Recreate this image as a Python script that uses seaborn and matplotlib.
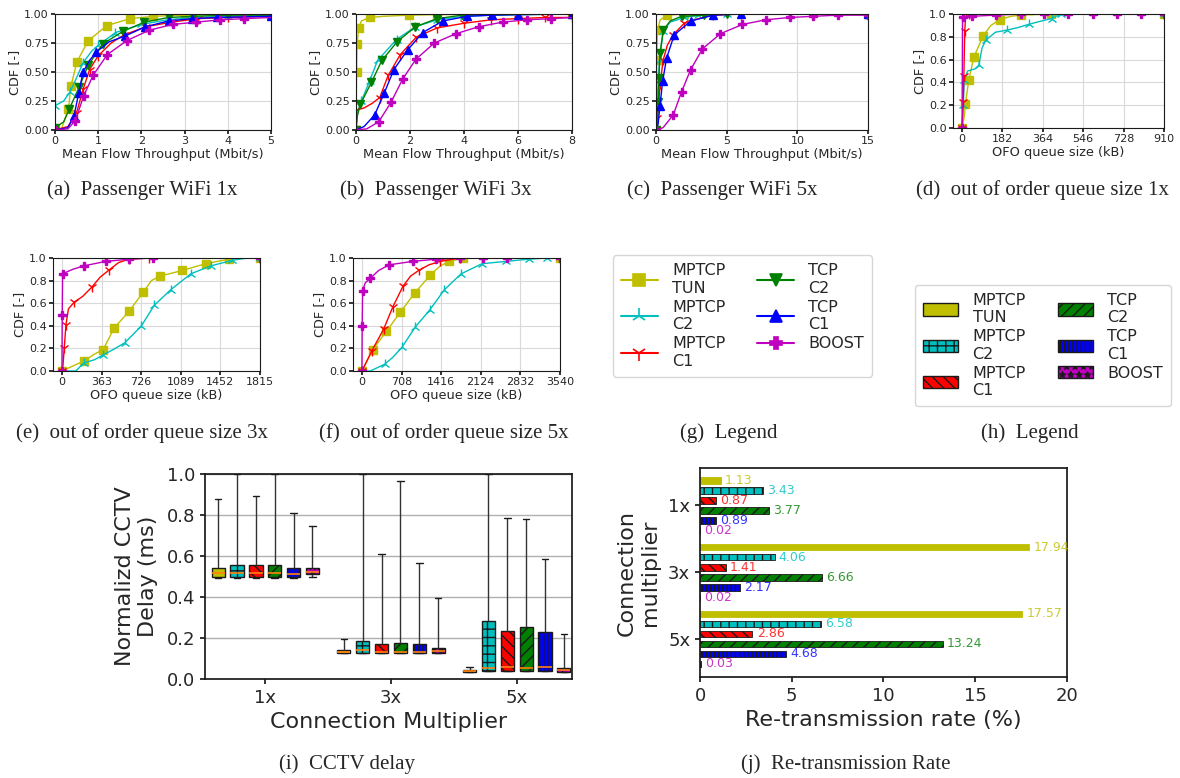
import numpy as np
import pandas as pd
import matplotlib
matplotlib.use("Agg")
import matplotlib.pyplot as plt
import seaborn as sns
from matplotlib.lines import Line2D
from matplotlib.patches import Patch

sns.set_theme(style="ticks")
plt.rcParams['font.family'] = ['DejaVu Sans']
plt.rcParams['hatch.linewidth'] = 1.0

# ---------------- data ----------------
PROTOCOLS = ["MPTCP\nTUN", "MPTCP\nC2", "MPTCP\nC1", "TCP\nC2", "TCP\nC1", "BOOST"]
COLORS = ['#bfbf00', '#00bfbf', '#ff0000', '#008000', '#0000ff', '#bf00bf']
MARKERS = ['s', '2', '1', 'v', '^', 'P']
HATCHES = ['', '++', '\\\\\\', '///', '||||', '**']

# (a) Passenger WiFi 1x: mean flow throughput (Mbit/s) -> CDF
PANEL_A = {
    "MPTCP\nTUN": ([0, 0.15, 0.31, 0.37, 0.51, 0.77, 1.2, 1.74, 2.28, 3.0, 5.0],
                   [0, 0.01, 0.18, 0.38, 0.59, 0.77, 0.90, 0.96, 0.98, 0.99, 1.0]),
    "MPTCP\nC2": ([0, 0.2, 0.35, 0.5, 0.65, 0.85, 1.0, 1.4, 2.0, 2.6, 3.2, 4.0, 5.0],
                  [0.21, 0.25, 0.33, 0.45, 0.58, 0.68, 0.73, 0.84, 0.91, 0.95, 0.97, 0.98, 0.99]),
    "MPTCP\nC1": ([0, 0.3, 0.5, 0.65, 0.8, 1.0, 1.3, 1.6, 2.1, 2.7, 3.3, 4.0, 5.0],
                  [0, 0.03, 0.15, 0.35, 0.52, 0.64, 0.75, 0.82, 0.89, 0.93, 0.96, 0.97, 0.98]),
    "TCP\nC2": ([0, 0.2, 0.33, 0.45, 0.56, 0.77, 1.1, 1.57, 2.07, 2.63, 3.2, 4.0, 5.0],
                [0.02, 0.07, 0.18, 0.28, 0.37, 0.56, 0.74, 0.85, 0.93, 0.97, 0.98, 0.99, 0.99]),
    "TCP\nC1": ([0, 0.3, 0.44, 0.55, 0.65, 0.8, 0.95, 1.25, 1.62, 2.09, 2.63, 3.18, 3.75, 5.0],
                [0, 0.02, 0.12, 0.32, 0.50, 0.60, 0.67, 0.76, 0.81, 0.89, 0.94, 0.96, 0.97, 0.98]),
    "BOOST": ([0, 0.3, 0.47, 0.66, 0.88, 1.21, 1.66, 2.18, 2.72, 3.27, 3.83, 4.37, 5.0],
              [0, 0.01, 0.08, 0.29, 0.47, 0.65, 0.77, 0.86, 0.91, 0.93, 0.95, 0.96, 0.97]),
}
# (b) Passenger WiFi 3x
PANEL_B = {
    "MPTCP\nTUN": ([0, 0.02, 0.04, 0.1, 0.2, 0.5, 1.02, 1.95, 3.0, 8.0],
                   [0, 0.5, 0.74, 0.88, 0.94, 0.97, 0.98, 0.99, 0.995, 1.0]),
    "MPTCP\nC2": ([0, 0.05, 0.2, 0.5, 0.8, 1.5, 2.2, 3.0, 4.0, 5.0, 8.0],
                  [0, 0.15, 0.25, 0.42, 0.60, 0.78, 0.89, 0.95, 0.98, 0.99, 1.0]),
    "MPTCP\nC1": ([0, 0.3, 0.6, 0.88, 1.19, 1.64, 2.23, 3.0, 4.0, 5.0, 6.0, 7.0, 8.0],
                  [0.17, 0.19, 0.23, 0.28, 0.47, 0.65, 0.80, 0.88, 0.92, 0.95, 0.96, 0.97, 0.97]),
    "TCP\nC2": ([0, 0.05, 0.16, 0.57, 0.96, 1.52, 2.2, 3.0, 3.93, 5.0, 8.0],
                [0, 0.12, 0.22, 0.41, 0.60, 0.76, 0.89, 0.96, 0.99, 0.995, 1.0]),
    "TCP\nC1": ([0, 0.3, 0.69, 1.05, 1.4, 1.91, 2.47, 3.22, 4.11, 5.04, 6.0, 8.0],
                [0, 0.03, 0.13, 0.32, 0.52, 0.69, 0.84, 0.94, 0.98, 0.99, 0.995, 1.0]),
    "BOOST": ([0, 0.4, 0.84, 1.3, 1.73, 2.22, 2.9, 3.7, 4.54, 5.43, 6.33, 7.23, 8.0],
              [0, 0.01, 0.07, 0.24, 0.44, 0.61, 0.75, 0.83, 0.89, 0.93, 0.95, 0.96, 0.97]),
}
# (c) Passenger WiFi 5x
PANEL_C = {
    "MPTCP\nTUN": ([0, 0.05, 0.1, 0.3, 0.8, 2.0, 15.0],
                   [0, 0.6, 0.86, 0.95, 0.99, 1.0, 1.0]),
    "MPTCP\nC2": ([0, 0.1, 0.25, 0.5, 1.0, 2.0, 3.0, 5.0, 15.0],
                  [0, 0.3, 0.6, 0.85, 0.93, 0.97, 0.99, 1.0, 1.0]),
    "MPTCP\nC1": ([0, 0.1, 0.3, 0.5, 0.8, 1.2, 2.0, 3.0, 4.0, 6.0, 15.0],
                  [0, 0.1, 0.4, 0.6, 0.73, 0.82, 0.92, 0.96, 0.99, 1.0, 1.0]),
    "TCP\nC2": ([0, 0.1, 0.16, 0.21, 0.28, 0.52, 1.0, 1.81, 3.4, 5.0, 15.0],
                [0, 0.05, 0.24, 0.45, 0.66, 0.86, 0.94, 0.98, 0.99, 1.0, 1.0]),
    "TCP\nC1": ([0, 0.15, 0.28, 0.47, 0.75, 1.29, 2.47, 4.05, 6.0, 15.0],
                [0, 0.05, 0.21, 0.42, 0.62, 0.82, 0.94, 0.99, 1.0, 1.0]),
    "BOOST": ([0, 0.5, 1.22, 1.81, 2.45, 3.29, 4.56, 6.12, 7.76, 9.46, 11.1, 12.9, 15.0],
              [0, 0.02, 0.13, 0.33, 0.52, 0.70, 0.83, 0.91, 0.95, 0.97, 0.98, 0.99, 0.99]),
}
# (d) OFO queue size 1x (kB)
PANEL_D = {
    "MPTCP\nTUN": ([0, 10, 15, 30, 53, 75, 95, 130, 169, 220, 264, 400, 910],
                   [0, 0.10, 0.21, 0.42, 0.62, 0.72, 0.81, 0.90, 0.95, 0.98, 0.99, 1.0, 1.0]),
    "MPTCP\nC2": ([0, 5, 10, 25, 60, 75, 90, 106, 150, 204, 250, 302, 360, 403, 445, 910],
                  [0, 0.20, 0.42, 0.50, 0.52, 0.55, 0.70, 0.77, 0.84, 0.86, 0.88, 0.91, 0.94, 0.96, 1.0, 1.0]),
    "MPTCP\nC1": ([0, 5, 8, 12, 16, 30, 910],
                  [0, 0.23, 0.46, 0.85, 0.98, 1.0, 1.0]),
    "BOOST": ([0, 2, 45, 151, 264, 370, 478, 589, 697, 807, 910],
              [0, 0.97, 0.98, 0.99, 1.0, 1.0, 1.0, 1.0, 1.0, 1.0, 1.0]),
}
# (e) OFO queue size 3x (kB)
PANEL_E = {
    "MPTCP\nTUN": ([0, 204, 300, 378, 479, 616, 747, 820, 900, 1104, 1318, 1531, 1600, 1815],
                   [0, 0.09, 0.15, 0.19, 0.38, 0.53, 0.70, 0.80, 0.84, 0.89, 0.95, 0.99, 1.0, 1.0]),
    "MPTCP\nC2": ([0, 128, 198, 300, 372, 470, 577, 729, 845, 998, 1181, 1364, 1562, 1700, 1815],
                  [0, 0, 0.07, 0.10, 0.14, 0.19, 0.25, 0.40, 0.58, 0.72, 0.86, 0.93, 0.98, 1.0, 1.0]),
    "MPTCP\nC1": ([0, 10, 21, 37, 60, 113, 190, 272, 350, 427, 520, 616, 800, 1815],
                  [0, 0.05, 0.20, 0.41, 0.55, 0.61, 0.66, 0.74, 0.83, 0.89, 0.96, 0.99, 1.0, 1.0]),
    "BOOST": ([0, 3, 6, 100, 198, 403, 616, 839, 1815],
              [0, 0.5, 0.86, 0.90, 0.93, 0.97, 0.99, 1.0, 1.0]),
}
# (f) OFO queue size 5x (kB)
PANEL_F = {
    "MPTCP\nTUN": ([0, 197, 436, 687, 943, 1224, 1400, 1564, 1800, 3540],
                   [0, 0.19, 0.35, 0.52, 0.69, 0.85, 0.93, 0.97, 1.0, 1.0]),
    "MPTCP\nC2": ([0, 150, 406, 550, 716, 955, 1212, 1475, 1773, 2149, 2579, 2985, 3313, 3540],
                  [0, 0, 0.06, 0.12, 0.21, 0.39, 0.54, 0.72, 0.86, 0.95, 0.97, 0.99, 1.0, 1.0]),
    "MPTCP\nC1": ([0, 179, 388, 555, 734, 870, 1015, 1200, 1403, 1761, 3540],
                  [0, 0.18, 0.37, 0.57, 0.75, 0.84, 0.89, 0.94, 0.97, 1.0, 1.0]),
    "BOOST": ([0, 5, 12, 60, 149, 300, 490, 907, 1331, 1761, 2167, 2597, 3540],
              [0, 0.4, 0.71, 0.78, 0.82, 0.89, 0.94, 0.97, 0.99, 1.0, 1.0, 1.0, 1.0]),
}

# (i) CCTV delay boxes: [min, q1, median, q3, max] per multiplier 1x, 3x, 5x
MULTIPLIERS = ["1x", "3x", "5x"]
BOX_TUN = [[0.494, 0.500, 0.515, 0.540, 0.878], [0.125, 0.127, 0.133, 0.141, 0.195], [0.036, 0.036, 0.040, 0.044, 0.057]]
BOX_C2 = [[0.491, 0.500, 0.515, 0.556, 1.000], [0.125, 0.127, 0.141, 0.185, 1.000], [0.039, 0.039, 0.055, 0.285, 1.000]]
BOX_C1 = [[0.491, 0.500, 0.515, 0.556, 0.891], [0.127, 0.128, 0.133, 0.169, 0.611], [0.039, 0.039, 0.058, 0.234, 0.784]]
BOX_TCP_C2 = [[0.491, 0.497, 0.515, 0.556, 1.000], [0.127, 0.128, 0.133, 0.174, 0.967], [0.039, 0.039, 0.052, 0.252, 0.779]]
BOX_TCP_C1 = [[0.491, 0.500, 0.510, 0.540, 0.808], [0.127, 0.128, 0.133, 0.171, 0.564], [0.039, 0.039, 0.058, 0.228, 0.584]]
BOX_BOOST = [[0.499, 0.511, 0.523, 0.540, 0.746], [0.127, 0.128, 0.137, 0.150, 0.393], [0.036, 0.036, 0.044, 0.055, 0.218]]

# (j) re-transmission rate (%)
RATE_TUN = [1.13, 17.94, 17.57]
RATE_C2 = [3.43, 4.06, 6.58]
RATE_C1 = [0.87, 1.41, 2.86]
RATE_TCP_C2 = [3.77, 6.66, 13.24]
RATE_TCP_C1 = [0.89, 2.17, 4.68]
RATE_BOOST = [0.02, 0.02, 0.03]

# ---------------- layout helpers ----------------
W, H = 1180, 778
fig = plt.figure(figsize=(W / 100, H / 100), dpi=100)


def rect(l, t, r, b):
    return [l / W, 1 - b / H, (r - l) / W, (b - t) / H]


def caption(x, y, s):
    fig.text(x / W, 1 - y / H, s, ha='center', va='center',
             family=['Liberation Serif', 'DejaVu Serif'], fontsize=15)


def cdf_panel(r, series, xlim, xticks, yticks, yfmt, xlabel):
    ax = fig.add_axes(rect(*r))
    for name, col, mk in zip(PROTOCOLS, COLORS, MARKERS):
        if name not in series:
            continue
        xs, ys = series[name]
        ms = 7.5 if mk in ('1', '2') else 5.5
        sns.lineplot(x=xs, y=ys, ax=ax, color=col, marker=mk, markersize=ms,
                     markeredgecolor=col, markeredgewidth=1.0, linewidth=1.0,
                     estimator=None, sort=False, markevery=0.1, legend=False)
    ax.set_xlim(*xlim)
    ax.set_ylim(0, 1)
    ax.set_xticks(xticks)
    ax.set_xticklabels([str(t) for t in xticks])
    ax.set_yticks(yticks)
    ax.set_yticklabels([yfmt.format(v) for v in yticks])
    ax.grid(True, color='#d9d9d9', lw=0.8)
    ax.set_axisbelow(True)
    ax.set_ylabel('CDF [-]', fontsize=9.3, labelpad=2)
    ax.set_xlabel(xlabel, fontsize=9.3, labelpad=1)
    ax.tick_params(labelsize=8, length=3, pad=1.5, color='k')
    for s in ax.spines.values():
        s.set_visible(True)
        s.set_color('k')
        s.set_linewidth(0.8)
    return ax


y4 = [0, 0.25, 0.5, 0.75, 1.0]
y5 = [0, 0.2, 0.4, 0.6, 0.8, 1.0]
cdf_panel((55, 14, 271, 130), PANEL_A, (0, 5), [0, 1, 2, 3, 4, 5], y4, '{:.2f}', 'Mean Flow Throughput (Mbit/s)')
cdf_panel((356, 14, 572, 130), PANEL_B, (0, 8), [0, 2, 4, 6, 8], y4, '{:.2f}', 'Mean Flow Throughput (Mbit/s)')
cdf_panel((656, 14, 868, 130), PANEL_C, (0, 15), [0, 5, 10, 15], y4, '{:.2f}', 'Mean Flow Throughput (Mbit/s)')
cdf_panel((953, 14, 1164, 128), PANEL_D, (-0.045 * 910, 910), [0, 182, 364, 546, 728, 910], y5, '{:.1f}', 'OFO queue size (kB)')
cdf_panel((53, 258, 260, 371), PANEL_E, (-0.045 * 1815, 1815), [0, 363, 726, 1089, 1452, 1815], y5, '{:.1f}', 'OFO queue size (kB)')
cdf_panel((353, 258, 560, 371), PANEL_F, (-0.045 * 3540, 3540), [0, 708, 1416, 2124, 2832, 3540], y5, '{:.1f}', 'OFO queue size (kB)')

# ---------------- legends (g) and (h) ----------------
line_handles = [Line2D([0], [0], color=c, marker=m, markersize=(11 if m in ('1', '2') else 9),
                       markeredgecolor=c, markeredgewidth=1.2, lw=1.5)
                for c, m in zip(COLORS, MARKERS)]
fig.legend(handles=line_handles, labels=PROTOCOLS, ncol=2, loc='center',
           bbox_to_anchor=(742.5 / W, 1 - 316 / H), fontsize=11.5, frameon=True,
           handlelength=2.3, handletextpad=0.9, columnspacing=2.0, labelspacing=0.25,
           borderpad=0.5, edgecolor='#cccccc', fancybox=True)
patch_handles = [Patch(facecolor=c, edgecolor='k', hatch=h, lw=1) for c, h in zip(COLORS, HATCHES)]
fig.legend(handles=patch_handles, labels=PROTOCOLS, ncol=2, loc='center',
           bbox_to_anchor=(1043 / W, 1 - 345.5 / H), fontsize=11.5, frameon=True,
           handlelength=2.2, handleheight=0.8, handletextpad=0.9, columnspacing=2.0,
           labelspacing=0.25, borderpad=0.5, edgecolor='#cccccc', fancybox=True)

# ---------------- (i) CCTV delay box plot ----------------
rows = []
for name, boxes in zip(PROTOCOLS, [BOX_TUN, BOX_C2, BOX_C1, BOX_TCP_C2, BOX_TCP_C1, BOX_BOOST]):
    for mult, vals in zip(MULTIPLIERS, boxes):
        for v in vals:
            rows.append((mult, name, v))
df_box = pd.DataFrame(rows, columns=['mult', 'proto', 'value'])

ax_i = fig.add_axes(rect(205, 474, 572, 679))
sns.boxplot(data=df_box, x='mult', y='value', hue='proto', hue_order=PROTOCOLS,
            order=MULTIPLIERS, palette=COLORS, whis=(0, 100), width=0.9, gap=0.3,
            saturation=1, linecolor='k', linewidth=1, showfliers=False,
            whiskerprops=dict(color='#333333', lw=1),
            medianprops=dict(color='#ff7f0e', lw=1.2), legend=False, ax=ax_i)
box_patches = [p for p in ax_i.patches]
centers = [(p.get_path().get_extents().x0 + p.get_path().get_extents().x1) / 2 for p in box_patches]
for rank, k in enumerate(np.argsort(centers)):
    p = box_patches[k]
    p.set_hatch(HATCHES[rank % 6])
    p.set_edgecolor('k')
ax_i.set_xlim(-0.48, 2.44)
ax_i.set_ylim(0, 1)
ax_i.set_yticks(y5)
ax_i.set_yticklabels(['{:.1f}'.format(v) for v in y5])
ax_i.yaxis.grid(True, color='#b0b0b0', lw=1)
ax_i.set_axisbelow(True)
ax_i.tick_params(labelsize=13, length=3.5, color='k')
ax_i.set_xlabel('Connection Multiplier', fontsize=16, labelpad=4)
ax_i.set_ylabel('Normalizd CCTV\nDelay (ms)', fontsize=16, labelpad=6)
for s in ax_i.spines.values():
    s.set_visible(True)
    s.set_color('k')

# ---------------- (j) re-transmission rate ----------------
rows = []
for name, rates in zip(PROTOCOLS, [RATE_TUN, RATE_C2, RATE_C1, RATE_TCP_C2, RATE_TCP_C1, RATE_BOOST]):
    for mult, v in zip(MULTIPLIERS, rates):
        rows.append((mult, name, v))
df_rate = pd.DataFrame(rows, columns=['mult', 'proto', 'rate'])

ax_j = fig.add_axes(rect(700, 468, 1067, 677))
sns.barplot(data=df_rate, y='mult', x='rate', hue='proto', hue_order=PROTOCOLS,
            order=MULTIPLIERS, palette=COLORS, orient='h', width=0.9, gap=0.33,
            saturation=1, errorbar=None, legend=False, edgecolor='k', linewidth=0.6, ax=ax_j)
for cont in ax_j.containers:
    b0 = cont.patches[0]
    cy = b0.get_y() + b0.get_height() / 2
    idx = int(round((cy - round(cy) + 0.375) / 0.15))
    idx = min(max(idx, 0), 5)
    for bar in cont.patches:
        bar.set_hatch(HATCHES[idx])
        if HATCHES[idx] == '':
            bar.set_edgecolor(COLORS[idx])
    ax_j.bar_label(cont, fmt='%.2f', padding=3, color=COLORS[idx], alpha=0.8, fontsize=9)
ax_j.set_xlim(0, 20)
ax_j.set_xticks([0, 5, 10, 15, 20])
ax_j.set_ylim(2.57, -0.56)
ax_j.tick_params(labelsize=13, length=3.5, color='k')
ax_j.set_xlabel('Re-transmission rate (%)', fontsize=16, labelpad=4)
ax_j.set_ylabel('Connection\nmultiplier', fontsize=16, labelpad=6)
for s in ax_j.spines.values():
    s.set_visible(True)
    s.set_color('k')

# ---------------- captions ----------------
caption(142, 190, '(a)  Passenger WiFi 1x')
caption(436, 190, '(b)  Passenger WiFi 3x')
caption(722, 190, '(c)  Passenger WiFi 5x')
caption(1043, 190, '(d)  out of order queue size 1x')
caption(142, 433, '(e)  out of order queue size 3x')
caption(444, 433, '(f)  out of order queue size 5x')
caption(729, 433, '(g)  Legend')
caption(1030, 433, '(h)  Legend')
caption(347, 764, '(i)  CCTV delay')
caption(846, 764, '(j)  Re-transmission Rate')

fig.savefig('out.png', dpi=100)
